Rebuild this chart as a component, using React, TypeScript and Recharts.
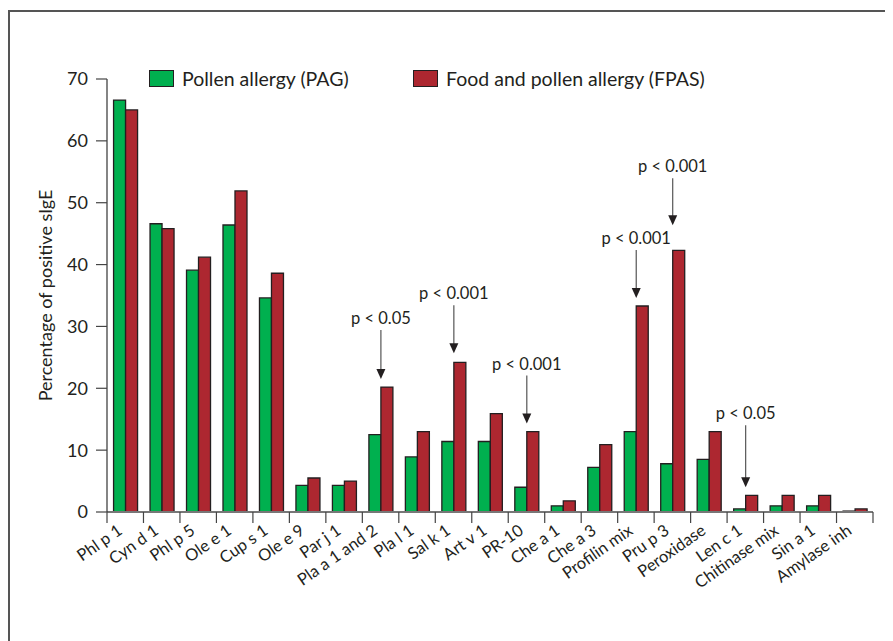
import React from 'react';
import { BarChart, Bar, XAxis, YAxis, LabelList } from 'recharts';

// Allergen components on the x axis
const allergens = [
  'Phl p 1', 'Cyn d 1', 'Phl p 5', 'Ole e 1', 'Cup s 1', 'Ole e 9', 'Par j 1',
  'Pla a 1 and 2', 'Pla l 1', 'Sal k 1', 'Art v 1', 'PR-10', 'Che a 1', 'Che a 3',
  'Profilin mix', 'Pru p 3', 'Peroxidase', 'Len c 1', 'Chitinase mix', 'Sin a 1', 'Amylase inh',
];

// % of patients with positive sIgE
const pag = [66.6, 46.6, 39.1, 46.4, 34.6, 4.3, 4.3, 12.5, 8.9, 11.4, 11.4, 4.0, 1.0, 7.2, 13.0, 7.8, 8.5, 0.5, 1.0, 1.0, 0.15];
const fpas = [65.0, 45.8, 41.2, 51.9, 38.6, 5.5, 5.0, 20.2, 13.0, 24.2, 15.9, 13.0, 1.8, 10.9, 33.3, 42.3, 13.0, 2.7, 2.7, 2.7, 0.5];

// significant differences between groups
const sigAllergens = ['Pla a 1 and 2', 'Sal k 1', 'PR-10', 'Profilin mix', 'Pru p 3', 'Len c 1'];
const sigLabels = ['p < 0.05', 'p < 0.001', 'p < 0.001', 'p < 0.001', 'p < 0.001', 'p < 0.05'];

const yTicks = [0, 10, 20, 30, 40, 50, 60, 70];

const GREEN = '#00b04f';
const RED = '#ad2730';
const INK = '#231f20';
const FONT = 'Lato, "Open Sans", sans-serif';

const series = [
  { key: 'pag', name: 'Pollen allergy (PAG)', color: GREEN, left: 141 },
  { key: 'fpas', name: 'Food and pollen allergy (FPAS)', color: RED, left: 405 },
];

// arrow placement above the FPAS bar: text centre and arrow tip, px above the bar top
const arrowLayout: Record<string, { rise: number; gap: number }> = {
  'Pla a 1 and 2': { rise: 69, gap: 8 },
  'Sal k 1': { rise: 69, gap: 9 },
  'PR-10': { rise: 68, gap: 8 },
  'Profilin mix': { rise: 68, gap: 8 },
  'Pru p 3': { rise: 84, gap: 25 },
  'Len c 1': { rise: 82, gap: 8 },
};

const data = allergens.map((name, i) => ({ name, pag: pag[i], fpas: fpas[i] }));

const W = 885;
const H = 633;
const MARGIN = { top: 71, right: 20, bottom: 29, left: 59 };
const Y_AXIS_W = 40;
const X_AXIS_H = 100;
const bandWidth = (W - MARGIN.left - MARGIN.right - Y_AXIS_W) / allergens.length;

const XTick = (props: any) => {
  const { x, y, payload, index } = props;
  const half = bandWidth / 2;
  return (
    <g>
      <line x1={x - half} x2={x - half} y1={y} y2={y + 11} stroke="#444" strokeWidth={1.2} />
      {index === allergens.length - 1 && (
        <line x1={x + half} x2={x + half} y1={y} y2={y + 11} stroke="#444" strokeWidth={1.2} />
      )}
      <text
        transform={`translate(${x - 2},${y + 21}) rotate(-35)`}
        textAnchor="end"
        fontSize={16.5}
        fontFamily={FONT}
        fill={INK}
      >
        {payload.value}
      </text>
    </g>
  );
};

const YTitle = (props: any) => {
  const { viewBox } = props;
  const cx = viewBox.x - 22;
  const cy = viewBox.y + viewBox.height / 2;
  return (
    <text
      x={cx}
      y={cy}
      transform={`rotate(-90, ${cx}, ${cy})`}
      textAnchor="middle"
      dominantBaseline="central"
      fontSize={18}
      fontFamily={FONT}
      fill={INK}
    >
      Percentage of positive sIgE
    </text>
  );
};

const renderPValue = (props: any) => {
  const { x, y, index } = props;
  const name = allergens[index];
  const k = sigAllergens.indexOf(name);
  if (k < 0) return null;
  const { rise, gap } = arrowLayout[name];
  const textY = y - rise;
  const tipY = y - gap;
  return (
    <g key={`p-${index}`}>
      <text
        x={x}
        y={textY}
        textAnchor="middle"
        dominantBaseline="central"
        fontSize={16.5}
        fontFamily={FONT}
        fill={INK}
      >
        {sigLabels[k]}
      </text>
      <line x1={x} x2={x} y1={textY + 12} y2={tipY - 9} stroke="#555" strokeWidth={1.2} />
      <polygon points={`${x - 4.5},${tipY - 10} ${x + 4.5},${tipY - 10} ${x},${tipY}`} fill={INK} />
    </g>
  );
};

export default function App() {
  return (
    <div style={{ position: 'relative', width: W, height: H }}>
      <div
        style={{
          position: 'absolute',
          left: 0,
          top: 2,
          width: W,
          height: H - 2,
          borderTop: '2px solid #555',
          borderLeft: '2px solid #555',
          boxSizing: 'border-box',
          pointerEvents: 'none',
        }}
      />
      {series.map((s) => (
        <div
          key={s.key}
          style={{
            position: 'absolute',
            left: s.left,
            top: 62,
            height: 17,
            display: 'flex',
            alignItems: 'center',
            fontFamily: FONT,
            fontSize: 19.5,
            color: INK,
            whiteSpace: 'nowrap',
          }}
        >
          <span
            style={{
              display: 'inline-block',
              width: 25,
              height: 17,
              background: s.color,
              border: `1.5px solid ${INK}`,
              boxSizing: 'border-box',
              marginRight: 8,
            }}
          />
          {s.name}
        </div>
      ))}
      <BarChart width={W} height={H} data={data} margin={MARGIN} barCategoryGap="18%" barGap={0}>
        <XAxis
          dataKey="name"
          interval={0}
          height={X_AXIS_H}
          tickSize={0}
          tickMargin={0}
          tickLine={false}
          axisLine={{ stroke: '#777', strokeWidth: 2 }}
          tick={<XTick />}
        />
        <YAxis
          width={Y_AXIS_W}
          domain={[0, 70]}
          ticks={yTicks}
          tickSize={11}
          tickMargin={8}
          axisLine={{ stroke: '#333', strokeWidth: 1.2 }}
          tickLine={{ stroke: '#444', strokeWidth: 1.2 }}
          tick={{ fontSize: 18, fontFamily: FONT, fill: INK }}
          label={<YTitle />}
        />
        <Bar dataKey="pag" name={series[0].name} fill={GREEN} stroke={INK} strokeWidth={1.3} isAnimationActive={false} />
        <Bar dataKey="fpas" name={series[1].name} fill={RED} stroke={INK} strokeWidth={1.3} isAnimationActive={false}>
          <LabelList dataKey="fpas" content={renderPValue} />
        </Bar>
      </BarChart>
    </div>
  );
}
